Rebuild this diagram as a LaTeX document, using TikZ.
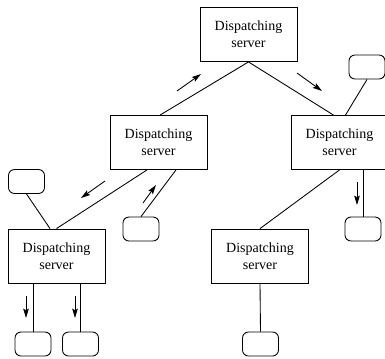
\documentclass[tikz,border=0pt]{standalone}
\usepackage{fontspec}
\setmainfont{Liberation Serif}
\usetikzlibrary{arrows.meta,calc}

\tikzset{
  server/.style={draw, line width=0.65pt, minimum width=72.75pt, minimum height=40.5pt,
    inner sep=0pt, align=center, font=\fontsize{10.5}{12.75}\selectfont},
  client/.style={draw, line width=0.65pt, rounded corners=4.5pt,
    minimum width=27pt, minimum height=18pt, inner sep=0pt},
  link/.style={line width=0.65pt},
  flow/.style={line width=0.65pt, -{Stealth[length=7pt,width=4.2pt,inset=1.2pt]}}
}

\begin{document}
\begin{tikzpicture}[x=0.75pt,y=-0.75pt]
        % page size of the reference
        \useasboundingbox (0,0) rectangle (385,358);

        % Dispatching servers
        \node[server] (top) at (248.5,34.5) {Dispatching\\server};
        \node[server] (ml) at (158.5,142.5) {Dispatching\\server};
        \node[server] (mr) at (339.5,142.5) {Dispatching\\server};
        \node[server] (ll) at (56.5,256) {Dispatching\\server};
        \node[server] (lr) at (260,256) {Dispatching\\server};

        % Clients
        \node[client] (ctr) at (367,67) {};
        \node[client] (cl) at (26.5,181.5) {};
        \node[client] (cm) at (141,229) {};
        \node[client] (cr) at (363,229) {};
        \node[client] (cb1) at (33,344) {};
        \node[client] (cb2) at (80.5,344) {};
        \node[client] (cb3) at (260.5,344) {};

        % Server tree
        \draw[link] (top.south) -- ($(ml.north)+(1.5,0)$);
        \draw[link] (top.south) -- ($(mr.north)+(-6,0)$);
        \draw[link] ($(ml.south)+(-11.5,0)$) -- (ll.north);
        \draw[link] (mr.south) -- (lr.north);

        % Client links
        \draw[link] ($(mr.north)+(6,0)$) -- (ctr.south);
        \draw[link] (cl.south) -- ($(ll.north)+(-6.5,0)$);
        \draw[link] ($(ml.south)+(17.5,0)$) -- (cm.north);
        \draw[link] (cr.north |- mr.south) -- (cr.north);
        \draw[link] (cb1.north |- ll.south) -- (cb1.north);
        \draw[link] (cb2.north |- ll.south) -- (cb2.north);
        \draw[link] (lr.south) -- (cb3.north);

        % Direction of requests
        \draw[flow] (177,91) -- (201,74);
        \draw[flow] (297,73) -- (322,91);
        \draw[flow] (105,181) -- (81,198);
        \draw[flow] (143,203) -- (156,185);
        \draw[flow] (357,182) -- (357,205);
        \draw[flow] (26,296) -- (26,318);
        \draw[flow] (75,296) -- (75,318);
\end{tikzpicture}
\end{document}
